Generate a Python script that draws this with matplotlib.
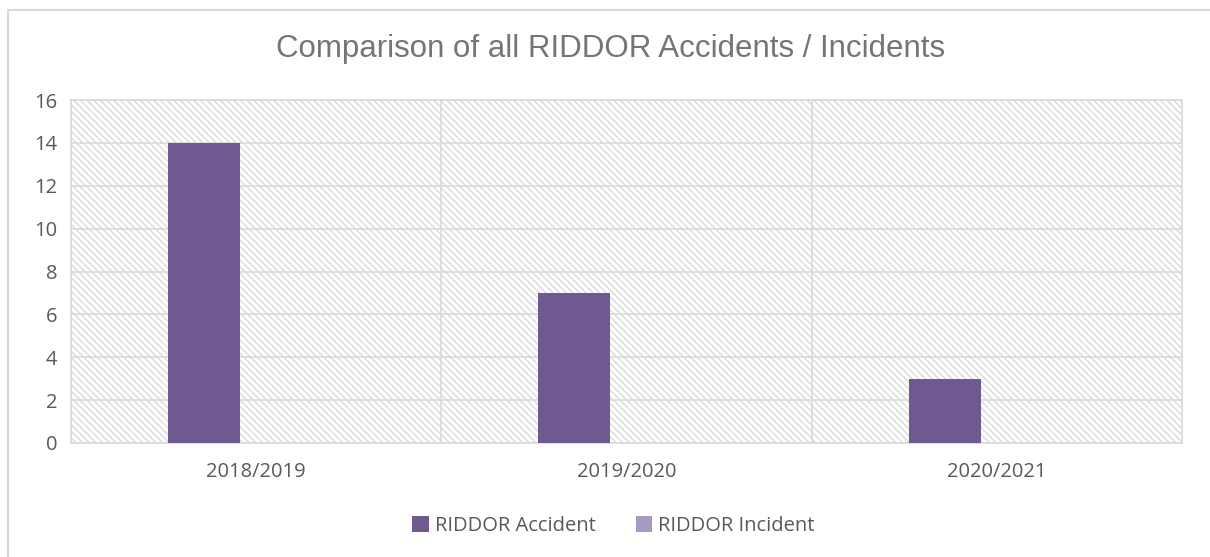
import matplotlib.pyplot as plt
import matplotlib.patches as mpatches
import numpy as np

# data
years = ['2018/2019', '2019/2020', '2020/2021']
accidents = [14, 7, 3]
incidents = [0, 0, 0]

plt.rcParams['hatch.color'] = '#d9d9d9'
plt.rcParams['hatch.linewidth'] = 1.0

fig = plt.figure(figsize=(12.1, 5.57), dpi=100)
# outer chart frame
fig.patches.append(mpatches.Rectangle((8/1210, -0.1), 1.2, (557-10)/557 + 0.1,
                                      transform=fig.transFigure, fill=False,
                                      edgecolor='#d9d9d9', linewidth=1.5))
ax = fig.add_axes([71/1210, 1-443/557, 1111/1210, 343/557])

x = np.arange(len(years))
w = 72/370
off = 52/370
ax.bar(x - off, accidents, w, color='#705890', label='RIDDOR Accident', zorder=3)
ax.bar(x + off, incidents, w, color='#a899c0', label='RIDDOR Incident', zorder=3)

ax.set_xlim(-0.5, 2.5)
ax.set_ylim(0, 16)
ax.set_yticks(range(0, 17, 2))
ax.set_xticks(x)
ax.set_xticklabels(years)

# hatched plot area
ax.add_patch(mpatches.Rectangle((0, 0), 1, 1, transform=ax.transAxes,
                                facecolor='white', hatch='\\\\\\\\\\',
                                edgecolor='#d9d9d9', linewidth=0, zorder=0))
for v in [0.5, 1.5]:
    ax.axvline(v, color='#d9d9d9', linewidth=1.2, zorder=1)
ax.grid(axis='y', color='#d9d9d9', linewidth=1.2, zorder=1)
ax.set_axisbelow(True)
for s in ax.spines.values():
    s.set_color('#d9d9d9')
    s.set_linewidth(1.2)
ax.tick_params(length=0, labelsize=14.5, labelcolor='#595959', pad=10)
for t in ax.get_xticklabels() + ax.get_yticklabels():
    t.set_family('Open Sans')
ax.tick_params(axis='x', pad=14)

fig.text(0.505, 1-49/557, 'Comparison of all RIDDOR Accidents / Incidents',
         ha='center', va='center', fontsize=22.5, color='#757575',
         family='Liberation Sans')

fig.legend(loc='center', bbox_to_anchor=(0.507, 1-526/557), ncol=2, frameon=False,
           prop={'family': 'Open Sans', 'size': 14.5}, labelcolor='#595959',
           handlelength=0.8, handleheight=0.8, handletextpad=0.3, columnspacing=2.0)

fig.savefig('out.png', dpi=100)
